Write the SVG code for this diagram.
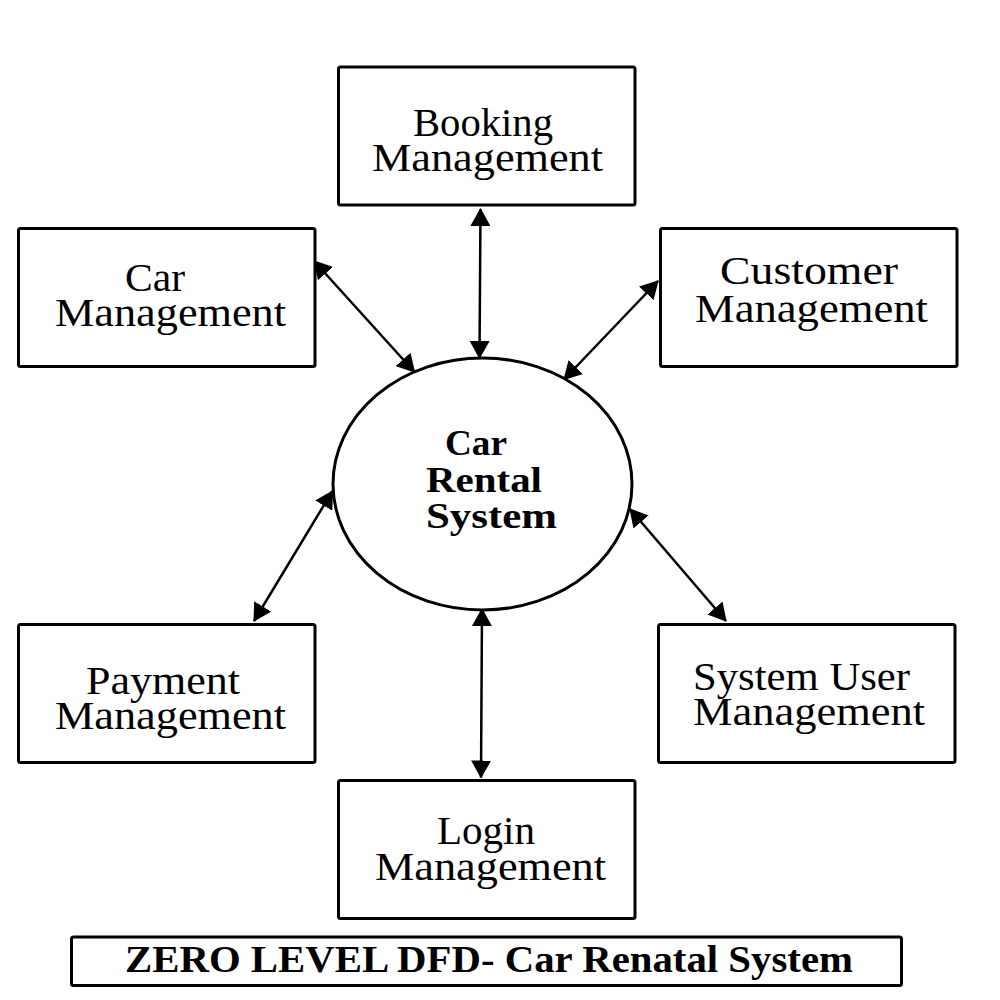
<svg xmlns="http://www.w3.org/2000/svg" width="1000" height="1000" viewBox="0 0 1000 1000">
<style>
.box{fill:#fff;stroke:#000;stroke-width:3}
.lbl{font-family:"Liberation Serif","Times New Roman",serif;font-size:39px;fill:#000}
.bold{font-family:"Liberation Serif","Times New Roman",serif;font-weight:bold;fill:#000}
.conn{stroke:#000;stroke-width:2.5;fill:none;marker-start:url(#ah);marker-end:url(#ah)}
</style>
<defs>
<marker id="ah" viewBox="0 0 18 20" refX="17" refY="10" markerWidth="18" markerHeight="20" markerUnits="userSpaceOnUse" orient="auto-start-reverse">
<path d="M0,0 L18,10 L0,20 z" fill="#000"/>
</marker>
</defs>
<rect width="1000" height="1000" fill="#fff"/>

<g id="connectors">
<line class="conn" x1="480.5" y1="209" x2="479.5" y2="358"/>
<line class="conn" x1="314" y1="261" x2="414.5" y2="372"/>
<line class="conn" x1="658" y1="281" x2="564" y2="379.5"/>
<line class="conn" x1="332.5" y1="491" x2="254" y2="621"/>
<line class="conn" x1="630" y1="509" x2="726" y2="621"/>
<line class="conn" x1="482" y1="609" x2="481" y2="777.5"/>
</g>

<g id="center">
<ellipse cx="482.5" cy="484" rx="149.5" ry="126" fill="#fff" stroke="#000" stroke-width="3"/>
<text class="bold" font-size="35" x="445" y="455" textLength="62" lengthAdjust="spacingAndGlyphs">Car</text>
<text class="bold" font-size="35" x="426" y="491.5" textLength="116" lengthAdjust="spacingAndGlyphs">Rental</text>
<text class="bold" font-size="35" x="426" y="527.5" textLength="131" lengthAdjust="spacingAndGlyphs">System</text>
</g>

<g id="booking">
<rect class="box" x="338.5" y="67" width="296.5" height="138" rx="2"/>
<text class="lbl" x="413" y="136" textLength="140" lengthAdjust="spacingAndGlyphs">Booking</text>
<text class="lbl" x="372" y="171" textLength="231" lengthAdjust="spacingAndGlyphs">Management</text>
</g>

<g id="car">
<rect class="box" x="18.5" y="228.5" width="296.5" height="138" rx="2"/>
<text class="lbl" x="125" y="291" textLength="60" lengthAdjust="spacingAndGlyphs">Car</text>
<text class="lbl" x="55" y="326" textLength="231" lengthAdjust="spacingAndGlyphs">Management</text>
</g>

<g id="customer">
<rect class="box" x="660.5" y="228.5" width="296.5" height="138" rx="2"/>
<text class="lbl" x="720" y="284" textLength="178" lengthAdjust="spacingAndGlyphs">Customer</text>
<text class="lbl" x="695" y="321.5" textLength="233" lengthAdjust="spacingAndGlyphs">Management</text>
</g>

<g id="payment">
<rect class="box" x="18.5" y="624.5" width="296.5" height="138" rx="2"/>
<text class="lbl" x="86" y="693.5" textLength="154" lengthAdjust="spacingAndGlyphs">Payment</text>
<text class="lbl" x="55" y="728.5" textLength="231" lengthAdjust="spacingAndGlyphs">Management</text>
</g>

<g id="systemuser">
<rect class="box" x="658.5" y="624.5" width="296.5" height="138" rx="2"/>
<text class="lbl" x="693" y="690" textLength="217" lengthAdjust="spacingAndGlyphs">System User</text>
<text class="lbl" x="693" y="725" textLength="232" lengthAdjust="spacingAndGlyphs">Management</text>
</g>

<g id="login">
<rect class="box" x="338.5" y="780.5" width="296.5" height="138" rx="2"/>
<text class="lbl" x="437" y="844" textLength="98" lengthAdjust="spacingAndGlyphs">Login</text>
<text class="lbl" x="375" y="880" textLength="231" lengthAdjust="spacingAndGlyphs">Management</text>
</g>

<g id="title">
<rect class="box" x="71.5" y="937" width="830" height="48.5" rx="2"/>
<text class="bold" font-size="37" x="125" y="971.5" textLength="728" lengthAdjust="spacingAndGlyphs">ZERO LEVEL DFD- Car Renatal System</text>
</g>
</svg>
